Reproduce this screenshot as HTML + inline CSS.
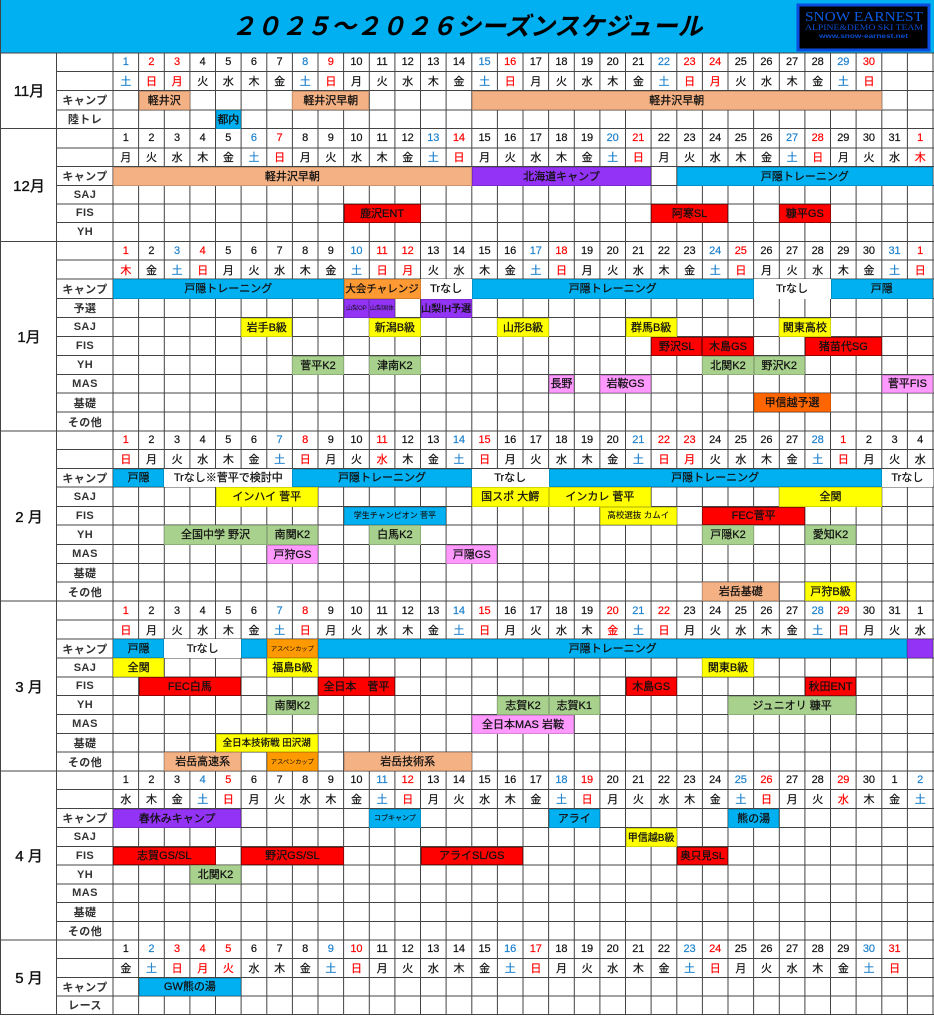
<!DOCTYPE html>
<html lang="ja"><head><meta charset="utf-8"><title>2025～2026シーズンスケジュール</title>
<style>
html,body{margin:0;padding:0;background:#fff}
body{width:934px;height:1016px;position:relative;overflow:hidden;font-family:"Liberation Sans","Noto Sans CJK JP",sans-serif;color:#111}
svg{position:absolute;left:0;top:0}
.rows{position:absolute;top:53px;display:grid;grid-template-rows:18.5px 19px 19.5px 18.5px 19.5px 18.5px 19px 18.5px 18.5px 19px 18.5px 19px 19.5px 19px 19px 19px 19px 18.5px 19px 19px 18.5px 19px 18.5px 19.5px 18.5px 19.5px 19px 18.5px 19px 19px 19px 19px 19px 18.5px 19px 19px 18.5px 19px 18.5px 19px 19px 19px 18.5px 19px 18.5px 19px 18.5px 18.5px 19px 18.5px 18.5px}
#g{left:113px;grid-template-columns:repeat(32,25.625px)}
#l{left:57px;width:56px;font-size:11px;font-weight:700;text-align:center;color:#333}
#l p{margin:0;display:flex;align-items:center;justify-content:center;letter-spacing:.4px}
.d{grid-column:1/-1;display:grid;grid-template-columns:repeat(32,25.625px);text-align:center;align-items:center;font-size:11px;-webkit-text-stroke:.2px currentColor}
.d b{font-weight:400}
.r{color:#f00}.s{color:#1c80cc}
#g p{margin:0;display:flex;align-items:center;justify-content:center;white-space:nowrap;font-size:11px;box-sizing:border-box;box-shadow:inset 0 0 0 1px rgba(0,0,0,.16);color:#111;overflow:visible;padding-bottom:1px;-webkit-text-stroke:.25px #111}
#g p.P{background:#f4b183}#g p.B{background:#00b0f0}#g p.V{background:#9333f5}#g p.Y{background:#ff0}
#g p.R{background:#f00;box-shadow:inset 0 0 0 1px rgba(0,0,0,.4)}#g p.G{background:#a9d18e}#g p.K{background:#ff99ff}
#g p.O{background:#ff6600}#g p.A{background:#ff9900}#g p.C{background:#ff9933}#g p.W{background:#fff;box-shadow:none}
.m{position:absolute;left:1px;width:56px;display:flex;align-items:center;justify-content:center;font-size:15px;font-weight:400;color:#111;-webkit-text-stroke:.35px #111}
#t{position:absolute;left:231px;top:8px;font-size:25px;line-height:34px;font-style:italic;font-weight:700;font-family:"Noto Sans CJK JP",sans-serif;white-space:nowrap;color:#000}
</style></head><body>
<svg width="934" height="1016" viewBox="0 0 934 1016">
<rect x="0" y="0" width="934" height="53" fill="#00b0f0"/>
<path fill="none" stroke="#444" stroke-width="1" d="M113 53V1014.5M138.6 53V1014.5M164.3 53V1014.5M189.9 53V1014.5M215.5 53V1014.5M241.1 53V1014.5M266.8 53V1014.5M292.4 53V1014.5M318 53V1014.5M343.6 53V1014.5M369.3 53V1014.5M394.9 53V1014.5M420.5 53V1014.5M446.1 53V1014.5M471.8 53V1014.5M497.4 53V1014.5M523 53V1014.5M548.6 53V1014.5M574.3 53V1014.5M599.9 53V1014.5M625.5 53V1014.5M651.1 53V1014.5M676.8 53V1014.5M702.4 53V1014.5M728 53V1014.5M753.6 53V1014.5M779.3 53V1014.5M804.9 53V1014.5M830.5 53V1014.5M856.1 53V1014.5M881.8 53V1014.5M907.4 53V1014.5M933 53V1014.5M56.5 53V1014.5M.5 0V1014.5M0 53H934M0 128.5H934M0 241.5H934M0 431H934M0 601H934M0 771H934M0 940H934M0 1014.5H934M57 71.5H934M57 90.5H934M57 110H934M57 148H934M57 166.5H934M57 185.5H934M57 204H934M57 222.5H934M57 260H934M57 279H934M57 298.5H934M57 317.5H934M57 336.5H934M57 355.5H934M57 374.5H934M57 393H934M57 412H934M57 449.5H934M57 468.5H934M57 487H934M57 506.5H934M57 525H934M57 544.5H934M57 563.5H934M57 582H934M57 620H934M57 639H934M57 658H934M57 677H934M57 695.5H934M57 714.5H934M57 733.5H934M57 752H934M57 789.5H934M57 808.5H934M57 827.5H934M57 846.5H934M57 865H934M57 884H934M57 902.5H934M57 921.5H934M57 958.5H934M57 977.5H934M57 996H934"/>
<rect x="798" y="5" width="131" height="45" fill="#000" stroke="#0a4be0" stroke-width="3"/>
<text x="805" y="21" font-family="Liberation Serif" font-size="14" fill="#0a5ae0" textLength="118" lengthAdjust="spacingAndGlyphs">SNOW EARNEST</text>
<text x="805" y="30" font-family="Liberation Serif" font-size="8" fill="#0a4fd0" textLength="118" lengthAdjust="spacingAndGlyphs">ALPINE&amp;DEMO  SKI  TEAM</text>
<text x="819" y="38" font-family="Liberation Sans" font-size="6" font-weight="700" fill="#0a4fd0" textLength="89" lengthAdjust="spacingAndGlyphs">www.snow-earnest.net</text>
</svg>
<div id="t">２０２５～２０２６シーズンスケジュール</div>
<div class="m" style="top:53px;height:75px">11月</div>
<div class="m" style="top:129px;height:112px">12月</div>
<div class="m" style="top:242px;height:189px">1月</div>
<div class="m" style="top:431px;height:170px">2 月</div>
<div class="m" style="top:601px;height:170px">3 月</div>
<div class="m" style="top:771px;height:169px">4 月</div>
<div class="m" style="top:940px;height:74px">5 月</div>
<div id="l" class="rows">
<p style="grid-row:3">キャンプ</p><p style="grid-row:4">陸トレ</p>
<p style="grid-row:7">キャンプ</p><p style="grid-row:8">SAJ</p><p style="grid-row:9">FIS</p><p style="grid-row:10">YH</p>
<p style="grid-row:13">キャンプ</p><p style="grid-row:14">予選</p><p style="grid-row:15">SAJ</p><p style="grid-row:16">FIS</p><p style="grid-row:17">YH</p><p style="grid-row:18">MAS</p><p style="grid-row:19">基礎</p><p style="grid-row:20">その他</p>
<p style="grid-row:23">キャンプ</p><p style="grid-row:24">SAJ</p><p style="grid-row:25">FIS</p><p style="grid-row:26">YH</p><p style="grid-row:27">MAS</p><p style="grid-row:28">基礎</p><p style="grid-row:29">その他</p>
<p style="grid-row:32">キャンプ</p><p style="grid-row:33">SAJ</p><p style="grid-row:34">FIS</p><p style="grid-row:35">YH</p><p style="grid-row:36">MAS</p><p style="grid-row:37">基礎</p><p style="grid-row:38">その他</p>
<p style="grid-row:41">キャンプ</p><p style="grid-row:42">SAJ</p><p style="grid-row:43">FIS</p><p style="grid-row:44">YH</p><p style="grid-row:45">MAS</p><p style="grid-row:46">基礎</p><p style="grid-row:47">その他</p>
<p style="grid-row:50">キャンプ</p><p style="grid-row:51">レース</p>
</div>
<div id="g" class="rows">
<div class="d" style="grid-row:1"><b class=s>1</b><b class=r>2</b><b class=r>3</b><b>4</b><b>5</b><b>6</b><b>7</b><b class=s>8</b><b class=r>9</b><b>10</b><b>11</b><b>12</b><b>13</b><b>14</b><b class=s>15</b><b class=r>16</b><b>17</b><b>18</b><b>19</b><b>20</b><b>21</b><b class=s>22</b><b class=r>23</b><b class=r>24</b><b>25</b><b>26</b><b>27</b><b>28</b><b class=s>29</b><b class=r>30</b></div>
<div class="d" style="grid-row:2"><b class=s>土</b><b class=r>日</b><b class=r>月</b><b>火</b><b>水</b><b>木</b><b>金</b><b class=s>土</b><b class=r>日</b><b>月</b><b>火</b><b>水</b><b>木</b><b>金</b><b class=s>土</b><b class=r>日</b><b>月</b><b>火</b><b>水</b><b>木</b><b>金</b><b class=s>土</b><b class=r>日</b><b class=r>月</b><b>火</b><b>水</b><b>木</b><b>金</b><b class=s>土</b><b class=r>日</b></div>
<p class="P" style="grid-area:3/2/4/span 2">軽井沢</p><p class="P" style="grid-area:3/8/4/span 3">軽井沢早朝</p><p class="P" style="grid-area:3/15/4/span 16">軽井沢早朝</p>
<p class="B" style="grid-area:4/5/5/span 1">都内</p>

<div class="d" style="grid-row:5"><b>1</b><b>2</b><b>3</b><b>4</b><b>5</b><b class=s>6</b><b class=r>7</b><b>8</b><b>9</b><b>10</b><b>11</b><b>12</b><b class=s>13</b><b class=r>14</b><b>15</b><b>16</b><b>17</b><b>18</b><b>19</b><b class=s>20</b><b class=r>21</b><b>22</b><b>23</b><b>24</b><b>25</b><b>26</b><b class=s>27</b><b class=r>28</b><b>29</b><b>30</b><b>31</b><b class=r>1</b></div>
<div class="d" style="grid-row:6"><b>月</b><b>火</b><b>水</b><b>木</b><b>金</b><b class=s>土</b><b class=r>日</b><b>月</b><b>火</b><b>水</b><b>木</b><b>金</b><b class=s>土</b><b class=r>日</b><b>月</b><b>火</b><b>水</b><b>木</b><b>金</b><b class=s>土</b><b class=r>日</b><b>月</b><b>火</b><b>水</b><b>木</b><b>金</b><b class=s>土</b><b class=r>日</b><b>月</b><b>火</b><b>水</b><b class=r>木</b></div>
<p class="P" style="grid-area:7/1/8/span 14">軽井沢早朝</p><p class="V" style="grid-area:7/15/8/span 7">北海道キャンプ</p><p class="B" style="grid-area:7/23/8/span 10">戸隠トレーニング</p>
<p class="R" style="grid-area:9/10/10/span 3">鹿沢ENT</p><p class="R" style="grid-area:9/22/10/span 3">阿寒SL</p><p class="R" style="grid-area:9/27/10/span 2">糠平GS</p>

<div class="d" style="grid-row:11"><b class=r>1</b><b>2</b><b class=s>3</b><b class=r>4</b><b>5</b><b>6</b><b>7</b><b>8</b><b>9</b><b class=s>10</b><b class=r>11</b><b class=r>12</b><b>13</b><b>14</b><b>15</b><b>16</b><b class=s>17</b><b class=r>18</b><b>19</b><b>20</b><b>21</b><b>22</b><b>23</b><b class=s>24</b><b class=r>25</b><b>26</b><b>27</b><b>28</b><b>29</b><b>30</b><b class=s>31</b><b class=r>1</b></div>
<div class="d" style="grid-row:12"><b class=r>木</b><b>金</b><b class=s>土</b><b class=r>日</b><b>月</b><b>火</b><b>水</b><b>木</b><b>金</b><b class=s>土</b><b class=r>日</b><b class=r>月</b><b>火</b><b>水</b><b>木</b><b>金</b><b class=s>土</b><b class=r>日</b><b>月</b><b>火</b><b>水</b><b>木</b><b>金</b><b class=s>土</b><b class=r>日</b><b>月</b><b>火</b><b>水</b><b>木</b><b>金</b><b class=s>土</b><b class=r>日</b></div>
<p class="B" style="grid-area:13/1/14/span 9">戸隠トレーニング</p><p class="C" style="grid-area:13/10/14/span 3;font-size:10.5px">大会チャレンジ</p><p class="W" style="grid-area:13/13/14/span 2">Trなし</p><p class="B" style="grid-area:13/15/14/span 11">戸隠トレーニング</p><p class="W" style="grid-area:13/26/14/span 3">Trなし</p><p class="B" style="grid-area:13/29/14/span 4">戸隠</p>
<p class="V" style="grid-area:14/10/15/span 1;font-size:6px;-webkit-text-stroke:0">山梨OP</p><p class="V" style="grid-area:14/11/15/span 1;font-size:6px;-webkit-text-stroke:0">山梨国体</p><p class="V" style="grid-area:14/13/15/span 2;font-size:10px">山梨IH予選</p>
<p class="Y" style="grid-area:15/6/16/span 2">岩手B級</p><p class="Y" style="grid-area:15/11/16/span 2">新潟B級</p><p class="Y" style="grid-area:15/16/16/span 2">山形B級</p><p class="Y" style="grid-area:15/21/16/span 2">群馬B級</p><p class="Y" style="grid-area:15/27/16/span 2">関東高校</p>
<p class="R" style="grid-area:16/22/17/span 2">野沢SL</p><p class="R" style="grid-area:16/24/17/span 2">木島GS</p><p class="R" style="grid-area:16/28/17/span 3">猪苗代SG</p>
<p class="G" style="grid-area:17/8/18/span 2">菅平K2</p><p class="G" style="grid-area:17/11/18/span 2">津南K2</p><p class="G" style="grid-area:17/24/18/span 2">北関K2</p><p class="G" style="grid-area:17/26/18/span 2">野沢K2</p>
<p class="K" style="grid-area:18/18/19/span 1">長野</p><p class="K" style="grid-area:18/20/19/span 2">岩鞍GS</p><p class="K" style="grid-area:18/31/19/span 2">菅平FIS</p>
<p class="O" style="grid-area:19/26/20/span 3">甲信越予選</p>

<div class="d" style="grid-row:21"><b class=r>1</b><b>2</b><b>3</b><b>4</b><b>5</b><b>6</b><b class=s>7</b><b class=r>8</b><b>9</b><b>10</b><b class=r>11</b><b>12</b><b>13</b><b class=s>14</b><b class=r>15</b><b>16</b><b>17</b><b>18</b><b>19</b><b>20</b><b class=s>21</b><b class=r>22</b><b class=r>23</b><b>24</b><b>25</b><b>26</b><b>27</b><b class=s>28</b><b class=r>1</b><b>2</b><b>3</b><b>4</b></div>
<div class="d" style="grid-row:22"><b class=r>日</b><b>月</b><b>火</b><b>水</b><b>木</b><b>金</b><b class=s>土</b><b class=r>日</b><b>月</b><b>火</b><b class=r>水</b><b>木</b><b>金</b><b class=s>土</b><b class=r>日</b><b>月</b><b>火</b><b>水</b><b>木</b><b>金</b><b class=s>土</b><b class=r>日</b><b class=r>月</b><b>火</b><b>水</b><b>木</b><b>金</b><b class=s>土</b><b class=r>日</b><b>月</b><b>火</b><b>水</b></div>
<p class="B" style="grid-area:23/1/24/span 2">戸隠</p><p class="W" style="grid-area:23/3/24/span 5">Trなし※菅平で検討中</p><p class="B" style="grid-area:23/8/24/span 7">戸隠トレーニング</p><p class="W" style="grid-area:23/15/24/span 3">Trなし</p><p class="B" style="grid-area:23/18/24/span 13">戸隠トレーニング</p><p class="W" style="grid-area:23/31/24/span 2">Trなし</p>
<p class="Y" style="grid-area:24/5/25/span 4">インハイ 菅平</p><p class="Y" style="grid-area:24/15/25/span 3">国スポ 大鰐</p><p class="Y" style="grid-area:24/18/25/span 4">インカレ 菅平</p><p class="Y" style="grid-area:24/27/25/span 4">全関</p>
<p class="B" style="grid-area:25/10/26/span 4;font-size:8px;-webkit-text-stroke:.1px">学生チャンピオン 菅平</p><p class="Y" style="grid-area:25/20/26/span 3;font-size:8.5px;-webkit-text-stroke:.1px">高校選抜 カムイ</p><p class="R" style="grid-area:25/24/26/span 4">FEC菅平</p>
<p class="G" style="grid-area:26/3/27/span 4">全国中学 野沢</p><p class="G" style="grid-area:26/7/27/span 2">南関K2</p><p class="G" style="grid-area:26/11/27/span 2">白馬K2</p><p class="G" style="grid-area:26/24/27/span 2">戸隠K2</p><p class="G" style="grid-area:26/28/27/span 2">愛知K2</p>
<p class="K" style="grid-area:27/7/28/span 2">戸狩GS</p><p class="K" style="grid-area:27/14/28/span 2">戸隠GS</p>
<p class="P" style="grid-area:29/24/30/span 3">岩岳基礎</p><p class="Y" style="grid-area:29/28/30/span 2">戸狩B級</p>

<div class="d" style="grid-row:30"><b class=r>1</b><b>2</b><b>3</b><b>4</b><b>5</b><b>6</b><b class=s>7</b><b class=r>8</b><b>9</b><b>10</b><b>11</b><b>12</b><b>13</b><b class=s>14</b><b class=r>15</b><b>16</b><b>17</b><b>18</b><b>19</b><b class=r>20</b><b class=s>21</b><b class=r>22</b><b>23</b><b>24</b><b>25</b><b>26</b><b>27</b><b class=s>28</b><b class=r>29</b><b>30</b><b>31</b><b>1</b></div>
<div class="d" style="grid-row:31"><b class=r>日</b><b>月</b><b>火</b><b>水</b><b>木</b><b>金</b><b class=s>土</b><b class=r>日</b><b>月</b><b>火</b><b>水</b><b>木</b><b>金</b><b class=s>土</b><b class=r>日</b><b>月</b><b>火</b><b>水</b><b>木</b><b class=r>金</b><b class=s>土</b><b class=r>日</b><b>月</b><b>火</b><b>水</b><b>木</b><b>金</b><b class=s>土</b><b class=r>日</b><b>月</b><b>火</b><b>水</b></div>
<p class="B" style="grid-area:32/1/33/span 2">戸隠</p><p class="W" style="grid-area:32/3/33/span 3">Trなし</p><p class="B" style="grid-area:32/6/33/span 1"></p><p class="A" style="grid-area:32/7/33/span 2;font-size:6.2px;-webkit-text-stroke:.05px">アスペンカップ</p><p class="B" style="grid-area:32/9/33/span 23">戸隠トレーニング</p><p class="V" style="grid-area:32/32/33/span 1"></p>
<p class="Y" style="grid-area:33/1/34/span 2">全関</p><p class="Y" style="grid-area:33/7/34/span 2">福島B級</p><p class="Y" style="grid-area:33/24/34/span 2">関東B級</p>
<p class="R" style="grid-area:34/2/35/span 4">FEC白馬</p><p class="R" style="grid-area:34/9/35/span 3">全日本　菅平</p><p class="R" style="grid-area:34/21/35/span 2">木島GS</p><p class="R" style="grid-area:34/28/35/span 2">秋田ENT</p>
<p class="G" style="grid-area:35/7/36/span 2">南関K2</p><p class="G" style="grid-area:35/16/36/span 2">志賀K2</p><p class="G" style="grid-area:35/18/36/span 2">志賀K1</p><p class="G" style="grid-area:35/25/36/span 5">ジュニオリ 糠平</p>
<p class="K" style="grid-area:36/15/37/span 4">全日本MAS 岩鞍</p>
<p class="Y" style="grid-area:37/5/38/span 4;font-size:9.5px">全日本技術戦 田沢湖</p>
<p class="P" style="grid-area:38/3/39/span 3">岩岳高速系</p><p class="A" style="grid-area:38/7/39/span 2;font-size:6.2px;-webkit-text-stroke:.05px">アスペンカップ</p><p class="P" style="grid-area:38/10/39/span 5">岩岳技術系</p>

<div class="d" style="grid-row:39"><b>1</b><b>2</b><b>3</b><b class=s>4</b><b class=r>5</b><b>6</b><b>7</b><b>8</b><b>9</b><b>10</b><b class=s>11</b><b class=r>12</b><b>13</b><b>14</b><b>15</b><b>16</b><b>17</b><b class=s>18</b><b class=r>19</b><b>20</b><b>21</b><b>22</b><b>23</b><b>24</b><b class=s>25</b><b class=r>26</b><b>27</b><b>28</b><b class=r>29</b><b>30</b><b>1</b><b class=s>2</b></div>
<div class="d" style="grid-row:40"><b>水</b><b>木</b><b>金</b><b class=s>土</b><b class=r>日</b><b>月</b><b>火</b><b>水</b><b>木</b><b>金</b><b class=s>土</b><b class=r>日</b><b>月</b><b>火</b><b>水</b><b>木</b><b>金</b><b class=s>土</b><b class=r>日</b><b>月</b><b>火</b><b>水</b><b>木</b><b>金</b><b class=s>土</b><b class=r>日</b><b>月</b><b>火</b><b class=r>水</b><b>木</b><b>金</b><b class=s>土</b></div>
<p class="V" style="grid-area:41/1/42/span 5">春休みキャンプ</p><p class="B" style="grid-area:41/11/42/span 2;font-size:7px;-webkit-text-stroke:.1px">コブキャンプ</p><p class="B" style="grid-area:41/18/42/span 2">アライ</p><p class="B" style="grid-area:41/25/42/span 2">熊の湯</p>
<p class="Y" style="grid-area:42/21/43/span 2;font-size:10px">甲信越B級</p>
<p class="R" style="grid-area:43/1/44/span 4">志賀GS/SL</p><p class="R" style="grid-area:43/6/44/span 4">野沢GS/SL</p><p class="R" style="grid-area:43/13/44/span 4">アライSL/GS</p><p class="R" style="grid-area:43/23/44/span 2;font-size:10.5px">奥只見SL</p>
<p class="G" style="grid-area:44/4/45/span 2">北関K2</p>

<div class="d" style="grid-row:48"><b>1</b><b class=s>2</b><b class=r>3</b><b class=r>4</b><b class=r>5</b><b>6</b><b>7</b><b>8</b><b class=s>9</b><b class=r>10</b><b>11</b><b>12</b><b>13</b><b>14</b><b>15</b><b class=s>16</b><b class=r>17</b><b>18</b><b>19</b><b>20</b><b>21</b><b>22</b><b class=s>23</b><b class=r>24</b><b>25</b><b>26</b><b>27</b><b>28</b><b>29</b><b class=s>30</b><b class=r>31</b></div>
<div class="d" style="grid-row:49"><b>金</b><b class=s>土</b><b class=r>日</b><b class=r>月</b><b class=r>火</b><b>水</b><b>木</b><b>金</b><b class=s>土</b><b class=r>日</b><b>月</b><b>火</b><b>水</b><b>木</b><b>金</b><b class=s>土</b><b class=r>日</b><b>月</b><b>火</b><b>水</b><b>木</b><b>金</b><b class=s>土</b><b class=r>日</b><b>月</b><b>火</b><b>水</b><b>木</b><b>金</b><b class=s>土</b><b class=r>日</b></div>
<p class="B" style="grid-area:50/2/51/span 4">GW熊の湯</p>
</div>
</body></html>
